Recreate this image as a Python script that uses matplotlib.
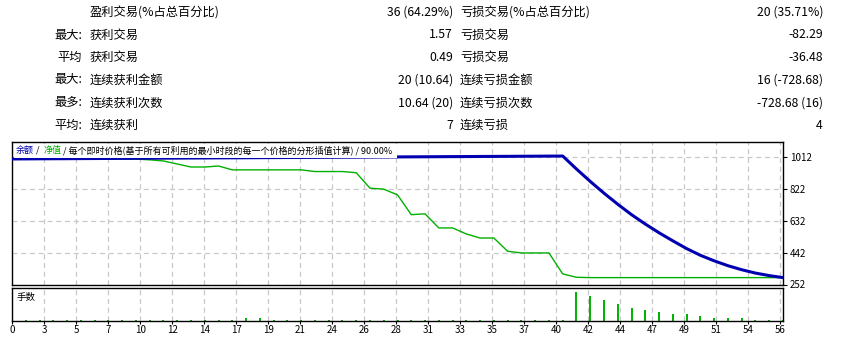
import matplotlib
matplotlib.use("Agg")
import matplotlib.pyplot as plt
from matplotlib.patches import Rectangle

plt.rcParams['font.family'] = ['Noto Sans CJK SC', 'DejaVu Sans']

# stats table above the chart
row_prefix = ["", "最大:", "平均", "最大:", "最多:", "平均:"]
win_labels = ["盈利交易(%占总百分比)", "获利交易", "获利交易", "连续获利金额", "连续获利次数", "连续获利"]
win_values = ["36 (64.29%)", "1.57", "0.49", "20 (10.64)", "10.64 (20)", "7"]
loss_labels = ["亏损交易(%占总百分比)", "亏损交易", "亏损交易", "连续亏损金额", "连续亏损次数", "连续亏损"]
loss_values = ["20 (35.71%)", "-82.29", "-36.48", "16 (-728.68)", "-728.68 (16)", "4"]

# balance / equity per trade (0 = deposit)
trades = list(range(57))
balance = [1000.0, 1000.4, 1000.9, 1001.3, 1001.6, 1002.1, 1002.5, 1003.0, 1003.4, 1003.8,
           1004.3, 1004.7, 1005.1, 1005.6, 1006.0, 1006.5, 1006.9, 1007.3, 1007.8, 1008.2,
           1008.6, 1009.1, 1009.5, 1010.0, 1010.4, 1010.8, 1011.3, 1011.7, 1012.1, 1012.6,
           1013.0, 1013.5, 1013.9, 1014.3, 1014.8, 1015.2, 1015.6, 1016.1, 1016.5, 1016.9,
           1017.3, 940, 866, 796, 730, 668, 612, 560, 512, 466,
           426, 393, 364, 340, 320, 305, 293]
equity = [1000, 1000, 1001, 1001, 1002, 1002, 1002, 1002, 1001, 999,
          995, 988, 970, 952, 952, 958, 935, 935, 935, 935,
          935, 935, 925, 925, 925, 918, 826, 820, 786, 668,
          673, 589, 589, 553, 529, 529, 450, 440, 440, 440,
          315, 295, 293, 293, 293, 293, 293, 293, 293, 293,
          293, 293, 293, 293, 293, 293, 293]
lots = [0.01] * 16 + [0.03, 0.03] + [0.01] * 22 + \
       [0.29, 0.25, 0.21, 0.17, 0.13, 0.11, 0.09, 0.07, 0.07, 0.05, 0.03, 0.03, 0.03, 0.01, 0.01, 0.01]

x_tick_labels = ["0", "3", "5", "7", "10", "12", "14", "17", "19", "21", "24", "26", "28",
                 "31", "33", "35", "37", "40", "42", "44", "47", "49", "51", "54", "56"]
y_ticks = [252, 442, 632, 822, 1012]

W, H = 847, 339
fig = plt.figure(figsize=(W / 100, H / 100), dpi=100)

def fx(x):
    return x / W

def fy(y):
    return 1 - y / H

# table
row_y = [12.5, 35, 57.5, 80, 103, 125.5]
for i, y in enumerate(row_y):
    fig.text(fx(82), fy(y), row_prefix[i], ha='right', va='center', fontsize=8.8)
    fig.text(fx(90), fy(y), win_labels[i], ha='left', va='center', fontsize=8.8)
    fig.text(fx(453), fy(y), win_values[i], ha='right', va='center', fontsize=8.8)
    fig.text(fx(460), fy(y), loss_labels[i], ha='left', va='center', fontsize=8.8)
    fig.text(fx(823), fy(y), loss_values[i], ha='right', va='center', fontsize=8.8)

green = '#00b000'
blue = '#0000b0'
grid_kw = dict(color='#c8c8c8', linestyle=(0, (4, 3)), linewidth=0.9)

# x grid every 32 px like the terminal
left_px, width_px = 12, 771
step = 32 / width_px * 56
grid_pos = [(44.3 - left_px) / width_px * 56 + k * step for k in range(24)]

ax = fig.add_axes([fx(left_px), fy(284.5), width_px / W, 142.5 / H])
ax.set_xlim(0, 56)
ax.set_ylim(252, 1101)
ax.plot(trades, equity, color=green, lw=1.0, zorder=3)
ax.plot(trades, balance, color=blue, lw=2.2, zorder=4)
ax.set_xticks(grid_pos)
ax.tick_params(axis='x', bottom=False, labelbottom=False)
ax.yaxis.tick_right()
ax.set_yticks(y_ticks)
ax.tick_params(axis='y', length=3, width=0.8, pad=2, labelsize=7)
ax.grid(True, **grid_kw)
for s in ax.spines.values():
    s.set_linewidth(1.0)

# header over the chart
fig.patches.append(Rectangle((fx(14), fy(158)), (397 - 14) / W, 14 / H,
                             transform=fig.transFigure, facecolor='white', edgecolor='none', zorder=5))
hy = fy(150.5)
fig.text(fx(16), hy, "余额", color=blue, fontsize=6.5, va='center', zorder=6)
fig.text(fx(36), hy, "/", color='black', fontsize=6.5, va='center', zorder=6)
fig.text(fx(44), hy, "净值", color=green, fontsize=6.5, va='center', zorder=6)
fig.text(fx(63), hy, "/ 每个即时价格(基于所有可利用的最小时段的每一个价格的分形插值计算) / 90.00%",
         color='black', fontsize=6.5, va='center', zorder=6)

# lots panel
ax2 = fig.add_axes([fx(left_px), fy(321), width_px / W, 33 / H])
ax2.set_xlim(0, 56)
ax2.set_ylim(0, 0.33)
ax2.vlines(trades[1:], 0, lots, color=green, lw=1.4)
ax2.set_yticks([])
ax2.set_xticks([0] + grid_pos)
ax2.set_xticklabels(x_tick_labels)
ax2.tick_params(axis='x', length=2, width=0.8, pad=1, labelsize=7)
ax2.grid(True, axis='x', **grid_kw)
for s in ax2.spines.values():
    s.set_linewidth(1.0)
ax2.text(0.006, 0.72, "手数", transform=ax2.transAxes, fontsize=6.8, va='center')

fig.savefig("out.png", dpi=100)
